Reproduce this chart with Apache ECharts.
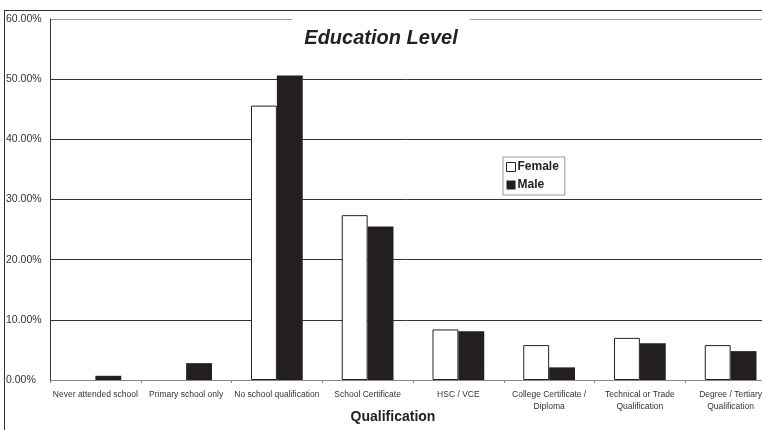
<!DOCTYPE html>
<html>
<head>
<meta charset="utf-8">
<script src="https://cdn.jsdelivr.net/npm/echarts@6/dist/echarts.min.js"></script>
<style>
  html, body { margin: 0; padding: 0; background: #fff; }
  #frame { position: absolute; left: 4px; top: 10px; width: 758px; height: 420px;
           border-top: 1px solid #333; border-left: 1px solid #333; }
  #chart { width: 762px; height: 430px; }
</style>
</head>
<body>
<div id="frame"></div>
<div id="chart"></div>
<script>
// categories along the x axis
const categories = [
  "Never attended school",
  "Primary school only",
  "No school qualification",
  "School Certificate",
  "HSC / VCE",
  "College Certificate /\nDiploma",
  "Technical or Trade\nQualification",
  "Degree / Tertiary\nQualification"
];
// percentages
const femaleValues = [0, 0, 45.6, 27.4, 8.4, 5.8, 7.0, 5.8];
const maleValues = [0.7, 2.8, 50.6, 25.5, 8.1, 2.1, 6.1, 4.8];

// a zero bar should not leave a border line on the axis
const noZeroBorder = v => (v === 0 ? { value: v, itemStyle: { borderWidth: 0 } } : v);

const chart = echarts.init(document.getElementById("chart"));
const option = {
  backgroundColor: "transparent",
  textStyle: { fontFamily: "Liberation Sans, Arial, sans-serif" },
  title: {
    text: "Education Level",
    left: "center",
    top: 13,
    padding: [15, 12, 6, 12],
    backgroundColor: "#fff",
    textStyle: {
      fontSize: 20,
      fontWeight: "bold",
      fontStyle: "italic",
      color: "#222"
    }
  },
  legend: {
    orient: "vertical",
    left: 503,
    top: 157,
    itemWidth: 9,
    itemHeight: 9,
    itemGap: 6,
    padding: [4, 6, 4, 3],
    borderColor: "#999",
    borderWidth: 1,
    backgroundColor: "#fff",
    textStyle: { fontSize: 12, fontWeight: "bold", color: "#222", padding: [0, 0, 0, -3] },
    data: [
      { name: "Female", icon: "rect", itemStyle: { color: "#fff", borderColor: "#222", borderWidth: 1 } },
      { name: "Male", icon: "rect" }
    ]
  },
  grid: { left: 50, right: -14, top: 19, bottom: 50, outerBoundsMode: "none", containLabel: false },
  xAxis: {
    type: "category",
    data: categories,
    name: "Qualification",
    nameLocation: "middle",
    nameGap: 30,
    nameMoveOverlap: false,
    nameTextStyle: { fontSize: 14, fontWeight: "bold", color: "#222", padding: [0, 40, 0, 0] },
    axisLine: { lineStyle: { color: "#888" } },
    axisTick: { show: true, length: 3, lineStyle: { color: "#888" } },
    axisLabel: { fontSize: 8.5, color: "#333", margin: 9, interval: 0, lineHeight: 12 }
  },
  yAxis: {
    type: "value",
    min: 0,
    max: 60,
    interval: 10,
    axisLine: { show: true, lineStyle: { color: "#333" } },
    axisTick: { show: false },
    axisLabel: {
      align: "left",
      margin: 44,
      fontSize: 10.5,
      color: "#333",
      formatter: v => v.toFixed(2) + "%"
    },
    splitLine: {
      lineStyle: {
        color: ["#333", "#333", "#333", "#333", "#333", "#333", "#999"],
        width: 1
      }
    }
  },
  series: [
    {
      name: "Female",
      type: "bar",
      data: femaleValues.map(noZeroBorder),
      barGap: "0%",
      barCategoryGap: "43%",
      itemStyle: { color: "#fff", borderColor: "#222", borderWidth: 1 }
    },
    {
      name: "Male",
      type: "bar",
      data: maleValues,
      itemStyle: { color: "#231f20" }
    }
  ]
};
chart.setOption(option);
</script>
</body>
</html>
